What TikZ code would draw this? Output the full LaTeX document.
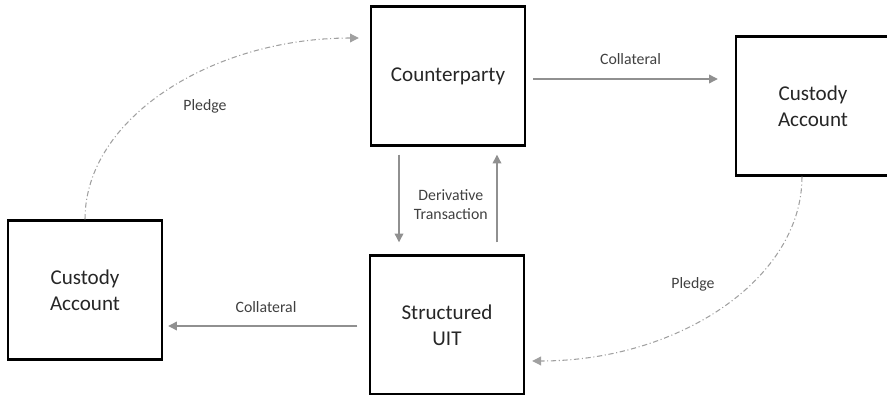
\documentclass[tikz,border=0pt]{standalone}
\usepackage{fontspec}
\setmainfont{Carlito}
\usetikzlibrary{arrows.meta,positioning}
\definecolor{flowgray}{HTML}{909090}
\definecolor{pledgegray}{HTML}{A0A0A0}

\begin{document}
\begin{tikzpicture}
[x=0.02cm, y=-0.02cm, >={Triangle[length=5pt,width=5pt]},
party/.style={rectangle, draw=black, line width=1.4pt, minimum width=3.08cm, minimum height=2.78cm, align=center, font=\fontsize{12}{14.6}\selectfont, text=black!85},
flow/.style={->, draw=flowgray, line width=0.7pt},
pledge/.style={->, draw=pledgegray, line width=0.6pt, dash pattern=on 3pt off 1.5pt on 0.6pt off 1.5pt},
tag/.style={font=\fontsize{9}{10.8}\selectfont, text=black!75, align=center}]

\clip (0,0) rectangle (887,395);

\node[party] (counterparty) at (448,76) {Counterparty};
\node[party] (uit) at (447,325) {Structured\\UIT};
\node[party] (custodyL) at (85,290) {Custody\\Account};
\node[party] (custodyR) at (813,106) {Custody\\Account};

% collateral
\draw[flow, shorten <=0.14cm, shorten >=0.34cm] ([yshift=-0.06cm]counterparty.east)
  -- ([yshift=-0.06cm]counterparty.east -| custodyR.west)
  node[tag, midway, yshift=0.4cm] {Collateral};
\draw[flow, shorten <=0.23cm, shorten >=0.1cm] ([yshift=-0.02cm]uit.west)
  -- ([yshift=-0.02cm]uit.west -| custodyL.east)
  node[tag, midway, yshift=0.38cm] {Collateral};

% derivative transaction
\draw[flow, shorten <=0.16cm, shorten >=0.24cm] ([xshift=-0.98cm]counterparty.south)
  -- ([xshift=-0.98cm]counterparty.south |- uit.north)
  node[tag, midway, right=0.17cm, yshift=-0.08cm] {Derivative\\Transaction};
\draw[flow, shorten <=0.24cm, shorten >=0.16cm] ([xshift=0.98cm]counterparty.south |- uit.north)
  -- ([xshift=0.98cm]counterparty.south);

% pledge
\draw[pledge, shorten >=0.22cm] (custodyL.north)
  .. controls +(0,-101) and +(-158,0) .. ([yshift=0.76cm]counterparty.west);
\node[tag] (pledgeL) at (205,106) {Pledge};
\draw[pledge, shorten >=0.14cm] ([xshift=-0.22cm]custodyR.south)
  .. controls +(0,102) and +(154,0) .. ([yshift=-0.72cm]uit.east);
\node[tag] (pledgeR) at (693,284) {Pledge};
\end{tikzpicture}
\end{document}
